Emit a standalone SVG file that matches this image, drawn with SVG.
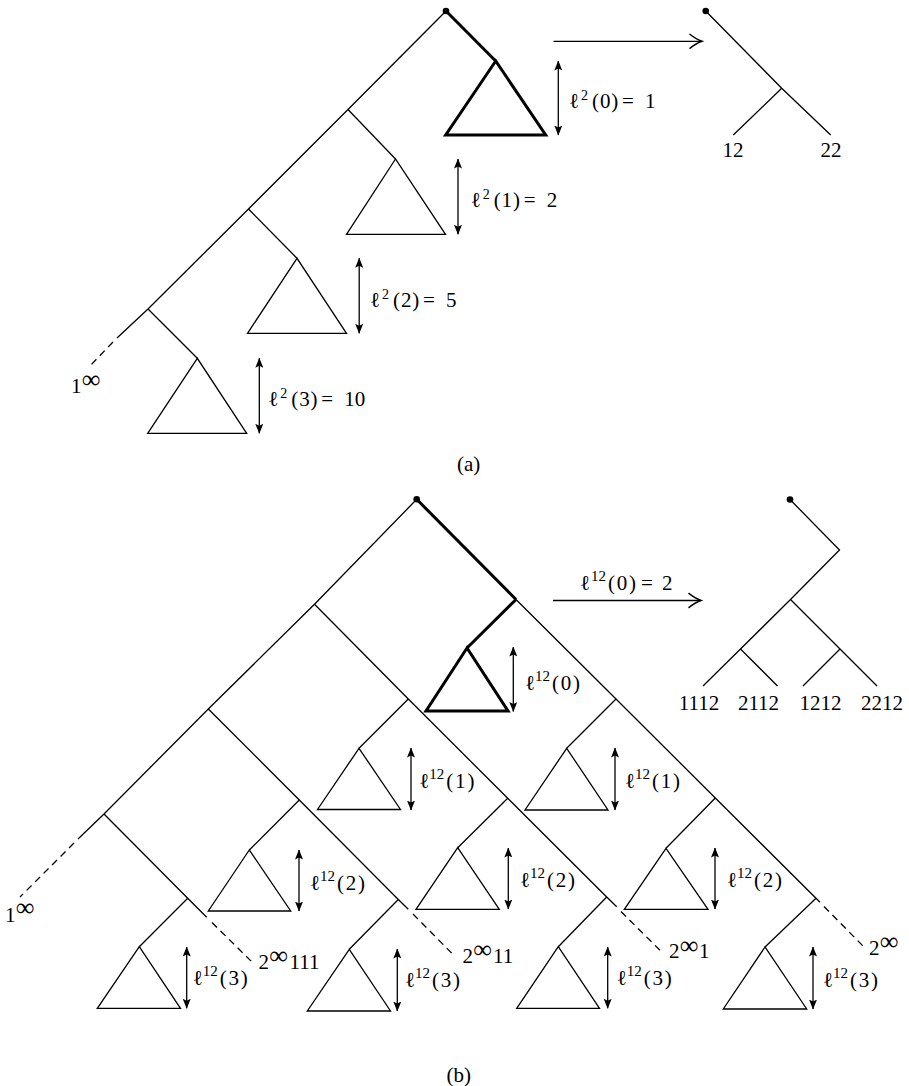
<svg xmlns="http://www.w3.org/2000/svg" width="909" height="1086" viewBox="0 0 909 1086">
<defs>
<style>
.ln{stroke:#000;stroke-width:1.3;fill:none;stroke-linejoin:miter;stroke-linecap:butt}
.tk{stroke:#000;stroke-width:3;fill:none;stroke-linejoin:miter}
.ds{stroke:#000;stroke-width:1.3;fill:none;stroke-dasharray:7 5}
.tri{stroke:#000;stroke-width:1.3;fill:none}
.tri0{stroke:#000;stroke-width:3;fill:none;stroke-linejoin:miter}
.ar{stroke:#000;stroke-width:1.3;fill:none;marker-start:url(#ah);marker-end:url(#ah)}
.ch{stroke:#000;stroke-width:1.5;fill:none}
.t{font-family:"Liberation Serif","DejaVu Serif",serif;font-size:21px;fill:#000}
.s{font-size:14px}
.s2{font-size:15px}
.inf{font-size:26px}
.p{letter-spacing:0.9px}
.p2{letter-spacing:1.8px}
</style>
<marker id="ah" viewBox="0 0 10 8" refX="9.5" refY="4" markerWidth="10" markerHeight="8" markerUnits="userSpaceOnUse" orient="auto-start-reverse">
<path d="M0,0 L10,4 L0,8 L2,4 z" fill="#000"/>
</marker>
</defs>

<!-- ================= (a) ================= -->
<g id="a-connectors">
<polyline class="ln" points="446,11 348,109.5 248.5,209 148,309 117,338"/>
<line class="ds" x1="113" y1="342" x2="89" y2="367"/>
<line class="tk" x1="446" y1="11" x2="495.7" y2="61"/>
<line class="ln" x1="348" y1="109.5" x2="395.5" y2="159"/>
<line class="ln" x1="248.5" y1="209" x2="297" y2="258.3"/>
<line class="ln" x1="148" y1="309" x2="197.3" y2="358.3"/>
<line class="ln" x1="553.6" y1="41.3" x2="701.5" y2="41.3"/>
<path class="ch" d="M689.5,34 Q696.5,39.5 702,41.3 Q696.5,43.1 689.5,48.6"/>
<line class="ar" x1="558.3" y1="61" x2="558.3" y2="135"/>
<line class="ar" x1="458" y1="159" x2="458" y2="234.3"/>
<line class="ar" x1="359.2" y1="258.3" x2="359.2" y2="333.3"/>
<line class="ar" x1="259.3" y1="358.3" x2="259.3" y2="433.3"/>
</g>
<g id="a-root"><circle cx="446" cy="11" r="3.3" fill="#000"/></g>
<g id="a-tri0"><polygon class="tri0" points="495.7,61 445.7,135 545.7,135"/></g>
<g id="a-tri1"><polygon class="tri" points="395.5,159 346.5,234.3 445.5,234.3"/></g>
<g id="a-tri2"><polygon class="tri" points="297,258.3 247.5,333.3 346.5,333.3"/></g>
<g id="a-tri3"><polygon class="tri" points="197.3,358.3 147.7,433.3 246.7,433.3"/></g>
<g id="a-labels">
<text class="t" y="108"><tspan x="569">ℓ</tspan><tspan class="s" x="581" y="100">2</tspan><tspan class="p" x="592" y="108">(0)</tspan><tspan x="622">=</tspan><tspan x="645">1</tspan></text>
<text class="t" y="206.7"><tspan x="470.7">ℓ</tspan><tspan class="s" x="482.7" y="198.7">2</tspan><tspan class="p" x="493.7" y="206.7">(1)</tspan><tspan x="523.7">=</tspan><tspan x="546.7">2</tspan></text>
<text class="t" y="307"><tspan x="370">ℓ</tspan><tspan class="s" x="382" y="299">2</tspan><tspan class="p" x="393" y="307">(2)</tspan><tspan x="423">=</tspan><tspan x="446">5</tspan></text>
<text class="t" y="406"><tspan x="268.3">ℓ</tspan><tspan class="s" x="280.3" y="398">2</tspan><tspan class="p" x="291.3" y="406">(3)</tspan><tspan x="321.3">=</tspan><tspan x="344.3">10</tspan></text>
<text class="t" y="393"><tspan x="71">1</tspan><tspan class="inf" x="81.8" y="388">∞</tspan></text>
</g>
<g id="a-small-tree">
<circle cx="705.7" cy="11" r="3.3" fill="#000"/>
<polyline class="ln" points="705.7,11 781.7,88.3 830.7,135"/>
<line class="ln" x1="781.7" y1="88.3" x2="733.3" y2="135"/>
<text class="t" x="733" y="157" text-anchor="middle">12</text>
<text class="t" x="831" y="157" text-anchor="middle">22</text>
</g>
<text id="cap-a" class="t" x="468.7" y="471" text-anchor="middle">(a)</text>

<!-- ================= (b) ================= -->
<g id="b-connectors">
<polyline class="ln" points="416.7,499.3 314.5,604.3 208.3,709 104,814 78,839"/>
<line class="ds" x1="74" y1="843" x2="20" y2="897"/>
<line class="tk" x1="416.7" y1="499.3" x2="516" y2="599.5"/>
<polyline class="tk" points="516,599.5 467,648"/>
<polyline class="ln" points="516,599.5 616,699 715.3,798 816,898.3 820,902.3"/>
<line class="ds" x1="824" y1="906.5" x2="864" y2="947"/>
<polyline class="ln" points="314.5,604.3 408.3,699 507.7,798.3 606.7,897 616.7,906.7"/>
<line class="ds" x1="621" y1="911.5" x2="661.7" y2="952"/>
<polyline class="ln" points="208.3,709 299.3,800 398.3,899.5 408.3,909.3"/>
<line class="ds" x1="413" y1="914" x2="455" y2="956.5"/>
<polyline class="ln" points="104,814 187.7,898.3 206.7,917.3"/>
<line class="ds" x1="212" y1="922.5" x2="251.7" y2="961.7"/>
<line class="ln" x1="408.3" y1="699" x2="359" y2="748.3"/>
<line class="ln" x1="616" y1="699" x2="566.7" y2="748.3"/>
<line class="ln" x1="299.3" y1="800" x2="249.3" y2="850"/>
<line class="ln" x1="507.7" y1="798.3" x2="457.7" y2="847.7"/>
<line class="ln" x1="715.3" y1="798" x2="666" y2="848.3"/>
<line class="ln" x1="187.7" y1="898.3" x2="139.3" y2="946.7"/>
<line class="ln" x1="398.3" y1="899.5" x2="349.3" y2="949.3"/>
<line class="ln" x1="606.7" y1="897" x2="558.3" y2="946.7"/>
<line class="ln" x1="816" y1="898.3" x2="765" y2="947"/>
<line class="ln" x1="553" y1="600.5" x2="700.5" y2="600.5"/>
<path class="ch" d="M688.5,593.2 Q695.5,598.7 701,600.5 Q695.5,602.3 688.5,607.8"/>
<line class="ar" x1="513.3" y1="647" x2="513.3" y2="711.5"/>
<line class="ar" x1="411" y1="748" x2="411" y2="810"/>
<line class="ar" x1="615" y1="748" x2="615" y2="810"/>
<line class="ar" x1="299" y1="850" x2="299" y2="911"/>
<line class="ar" x1="508.3" y1="848" x2="508.3" y2="909"/>
<line class="ar" x1="715" y1="848" x2="715" y2="909"/>
<line class="ar" x1="186.7" y1="947" x2="186.7" y2="1008.3"/>
<line class="ar" x1="397.3" y1="949" x2="397.3" y2="1011"/>
<line class="ar" x1="607.7" y1="947" x2="607.7" y2="1008.3"/>
<line class="ar" x1="813" y1="947" x2="813" y2="1009"/>
</g>
<g id="b-root"><circle cx="416.7" cy="499.3" r="3.3" fill="#000"/></g>
<g id="b-tri0"><polygon class="tri0" points="467,648 426,711 508,711"/></g>
<g id="b-tri1a"><polygon class="tri" points="359,748.3 317.5,809.5 400.5,809.5"/></g>
<g id="b-tri1b"><polygon class="tri" points="566.7,748.3 525,810 608,810"/></g>
<g id="b-tri2a"><polygon class="tri" points="249.3,850 208.3,911 290.7,911"/></g>
<g id="b-tri2b"><polygon class="tri" points="457.7,847.7 416,909.3 499.3,909.3"/></g>
<g id="b-tri2c"><polygon class="tri" points="666,848.3 624.3,909.3 708,909.3"/></g>
<g id="b-tri3a"><polygon class="tri" points="139.3,946.7 97.3,1008.3 180.5,1008.3"/></g>
<g id="b-tri3b"><polygon class="tri" points="349.3,949.3 307.3,1011 390.5,1011"/></g>
<g id="b-tri3c"><polygon class="tri" points="558.3,946.7 516.7,1008.3 599.5,1008.3"/></g>
<g id="b-tri3d"><polygon class="tri" points="765,947 723.3,1009 806.7,1009"/></g>
<g id="b-labels">
<text class="t" y="590"><tspan x="580">ℓ</tspan><tspan class="s2" x="591" y="581">12</tspan><tspan class="p2" x="608" y="590">(0)</tspan><tspan x="641">=</tspan><tspan x="662">2</tspan></text>
<text class="t" y="690"><tspan x="525">ℓ</tspan><tspan class="s2" x="535" y="681">12</tspan><tspan class="p2" x="552" y="690">(0)</tspan></text>
<text class="t" y="788"><tspan x="419.3">ℓ</tspan><tspan class="s2" x="429.3" y="779">12</tspan><tspan class="p2" x="446.3" y="788">(1)</tspan></text>
<text class="t" y="788"><tspan x="625">ℓ</tspan><tspan class="s2" x="635" y="779">12</tspan><tspan class="p2" x="652" y="788">(1)</tspan></text>
<text class="t" y="890"><tspan x="310">ℓ</tspan><tspan class="s2" x="320" y="881">12</tspan><tspan class="p2" x="337" y="890">(2)</tspan></text>
<text class="t" y="887"><tspan x="520">ℓ</tspan><tspan class="s2" x="530" y="878">12</tspan><tspan class="p2" x="547" y="887">(2)</tspan></text>
<text class="t" y="887"><tspan x="727">ℓ</tspan><tspan class="s2" x="737" y="878">12</tspan><tspan class="p2" x="754" y="887">(2)</tspan></text>
<text class="t" y="985"><tspan x="192.7">ℓ</tspan><tspan class="s2" x="202.7" y="976">12</tspan><tspan class="p2" x="219.7" y="985">(3)</tspan></text>
<text class="t" y="987"><tspan x="405">ℓ</tspan><tspan class="s2" x="415" y="978">12</tspan><tspan class="p2" x="432" y="987">(3)</tspan></text>
<text class="t" y="985"><tspan x="616.7">ℓ</tspan><tspan class="s2" x="626.7" y="976">12</tspan><tspan class="p2" x="643.7" y="985">(3)</tspan></text>
<text class="t" y="987"><tspan x="823">ℓ</tspan><tspan class="s2" x="833" y="978">12</tspan><tspan class="p2" x="850" y="987">(3)</tspan></text>
<text class="t" y="921.7"><tspan x="5">1</tspan><tspan class="inf" x="15.8" y="916">∞</tspan></text>
<text class="t" y="969"><tspan x="258.5">2</tspan><tspan class="inf" x="269.2" y="964">∞</tspan><tspan x="289.5" y="969">111</tspan></text>
<text class="t" y="962.7"><tspan x="462.5">2</tspan><tspan class="inf" x="473.2" y="958">∞</tspan><tspan x="493" y="962.7">11</tspan></text>
<text class="t" y="958.3"><tspan x="669">2</tspan><tspan class="inf" x="679.7" y="953.5">∞</tspan><tspan x="699" y="958.3">1</tspan></text>
<text class="t" y="955"><tspan x="869">2</tspan><tspan class="inf" x="879.7" y="949.5">∞</tspan></text>
</g>
<g id="b-small-tree">
<circle cx="790" cy="499.5" r="3.3" fill="#000"/>
<polyline class="ln" points="790,499.5 839.5,550 790.5,599.5 740.5,649 703,686"/>
<line class="ln" x1="740.5" y1="649" x2="777.5" y2="686"/>
<polyline class="ln" points="790.5,599.5 840,649 877,686"/>
<line class="ln" x1="840" y1="649" x2="803" y2="686"/>
<text class="t" x="699" y="710" text-anchor="middle">1112</text>
<text class="t" x="758.5" y="710" text-anchor="middle">2112</text>
<text class="t" x="820.5" y="710" text-anchor="middle">1212</text>
<text class="t" x="882" y="710" text-anchor="middle">2212</text>
</g>
<text id="cap-b" class="t" x="458.7" y="1081.5" text-anchor="middle">(b)</text>
</svg>
